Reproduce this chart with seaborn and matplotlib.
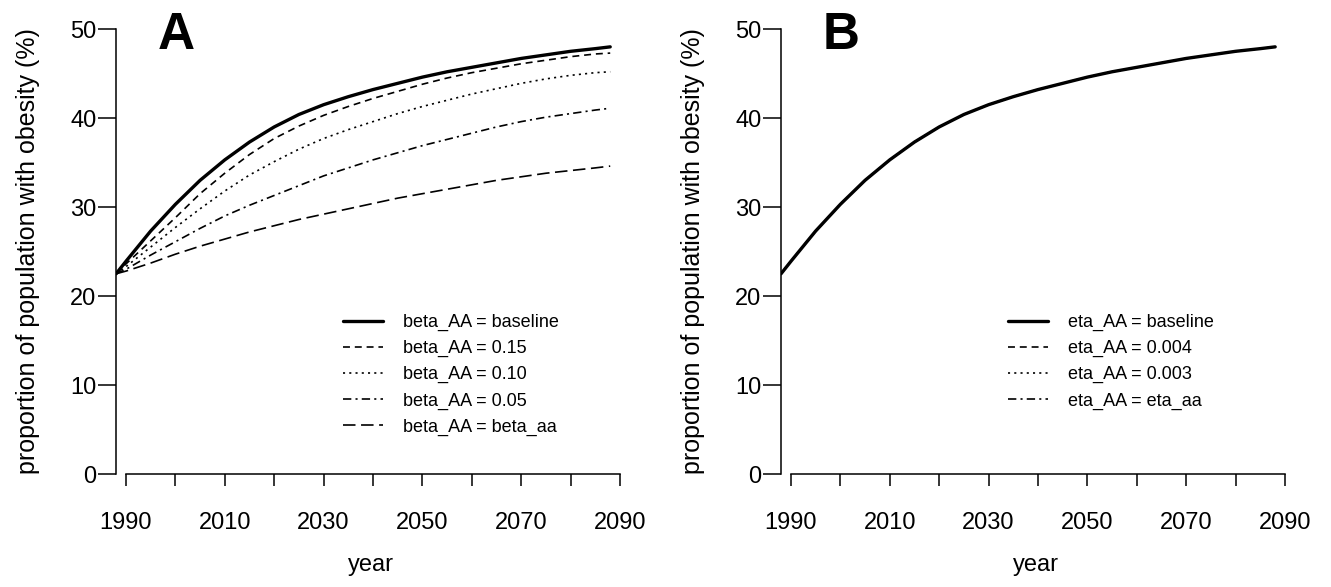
import matplotlib
matplotlib.use("Agg")
import matplotlib.pyplot as plt
import seaborn as sns
from matplotlib.ticker import MultipleLocator

# values
years = [1988, 1990, 1995, 2000, 2005, 2010, 2015, 2020, 2025, 2030, 2035,
         2040, 2045, 2050, 2055, 2060, 2065, 2070, 2075, 2080, 2085, 2088]

beta_baseline = [22.5, 23.9, 27.3, 30.3, 33.0, 35.3, 37.3, 39.0, 40.4, 41.5, 42.4,
                 43.2, 43.9, 44.6, 45.2, 45.7, 46.2, 46.7, 47.1, 47.5, 47.8, 48.0]
beta_015 = [22.5, 23.6, 26.2, 28.8, 31.5, 33.8, 35.9, 37.7, 39.1, 40.3, 41.3,
            42.2, 43.0, 43.8, 44.5, 45.1, 45.6, 46.1, 46.5, 46.9, 47.2, 47.3]
beta_010 = [22.5, 23.3, 25.5, 27.7, 29.8, 31.8, 33.6, 35.1, 36.5, 37.7, 38.7,
            39.6, 40.5, 41.3, 42.0, 42.7, 43.3, 43.9, 44.4, 44.8, 45.1, 45.2]
beta_005 = [22.5, 23.0, 24.6, 26.1, 27.6, 29.0, 30.2, 31.3, 32.4, 33.5, 34.4,
            35.3, 36.1, 36.9, 37.6, 38.3, 39.0, 39.6, 40.1, 40.5, 40.9, 41.1]
beta_aa = [22.5, 22.8, 23.7, 24.7, 25.6, 26.4, 27.2, 27.9, 28.6, 29.2, 29.8,
           30.4, 31.0, 31.5, 32.0, 32.5, 33.0, 33.4, 33.8, 34.1, 34.4, 34.6]

# panel B: the four eta curves lie on top of each other
eta_baseline = [22.5, 23.9, 27.3, 30.3, 33.0, 35.3, 37.3, 39.0, 40.4, 41.5, 42.4,
                43.2, 43.9, 44.6, 45.2, 45.7, 46.2, 46.7, 47.1, 47.5, 47.8, 48.0]
eta_0004 = eta_baseline
eta_0003 = eta_baseline
eta_aa = eta_baseline

labels_a = ["beta_AA = baseline", "beta_AA = 0.15", "beta_AA = 0.10",
            "beta_AA = 0.05", "beta_AA = beta_aa"]
labels_b = ["eta_AA = baseline", "eta_AA = 0.004", "eta_AA = 0.003",
            "eta_AA = eta_aa"]

sns.set_style("ticks")
plt.rcParams["font.family"] = ["Liberation Sans", "DejaVu Sans"]
plt.rcParams["lines.scale_dashes"] = False
for k in ["text.color", "axes.labelcolor", "xtick.color", "ytick.color", "axes.edgecolor"]:
    plt.rcParams[k] = "black"

styles = [
    dict(lw=2.4, linestyle="-"),
    dict(lw=1.2, linestyle=(0, (5, 3.5))),
    dict(lw=1.2, linestyle=(0, (1.5, 3))),
    dict(lw=1.2, linestyle=(0, (6, 3, 1.5, 3))),
    dict(lw=1.2, linestyle=(0, (9, 4))),
]

fig = plt.figure(figsize=(13.31, 5.87), dpi=100)
ax_a = fig.add_axes([0.0872, 0.1925, 0.3824, 0.758])
ax_b = fig.add_axes([0.5868, 0.1925, 0.3824, 0.758])

for vals, lab, st in zip([beta_baseline, beta_015, beta_010, beta_005, beta_aa], labels_a, styles):
    sns.lineplot(x=years, y=vals, ax=ax_a, color="black", label=lab, **st)

for vals, lab, st in zip([eta_baseline, eta_0004, eta_0003, eta_aa], labels_b, styles):
    sns.lineplot(x=years, y=vals, ax=ax_b, color="black", label=lab, **st)

for ax, letter in [(ax_a, "A"), (ax_b, "B")]:
    ax.set_xlim(1988, 2091)
    ax.set_ylim(0, 50)
    ax.spines["top"].set_visible(False)
    ax.spines["right"].set_visible(False)
    ax.spines["left"].set_bounds(0, 50)
    ax.spines["bottom"].set_bounds(1990, 2090)
    for s in ["left", "bottom"]:
        ax.spines[s].set_linewidth(1.1)
    ax.set_xticks(range(1990, 2091, 20))
    ax.xaxis.set_minor_locator(MultipleLocator(10))
    ax.set_yticks(range(0, 51, 10))
    ax.tick_params(axis="x", which="both", length=8.5, width=1.1, pad=19,
                   labelsize=17)
    ax.tick_params(axis="y", length=13, width=1.1, pad=1, labelsize=17)
    ax.set_xlabel("year", fontsize=17)
    ax.set_ylabel("proportion of population with obesity (%)", fontsize=18)
    ax.xaxis.set_label_coords(0.5, -0.18)
    ax.yaxis.set_label_coords(-0.15, 0.5)
    ax.text(0.118, 0.955, letter, transform=ax.transAxes, fontsize=37,
            fontweight="bold", ha="center", va="baseline")
    ax.legend(loc="upper left", bbox_to_anchor=(0.446, 0.36), frameon=False,
              fontsize=13, handlelength=2.2, handletextpad=1.1,
              labelspacing=0.5, borderpad=0, borderaxespad=0)

fig.savefig("out.png", dpi=100)
